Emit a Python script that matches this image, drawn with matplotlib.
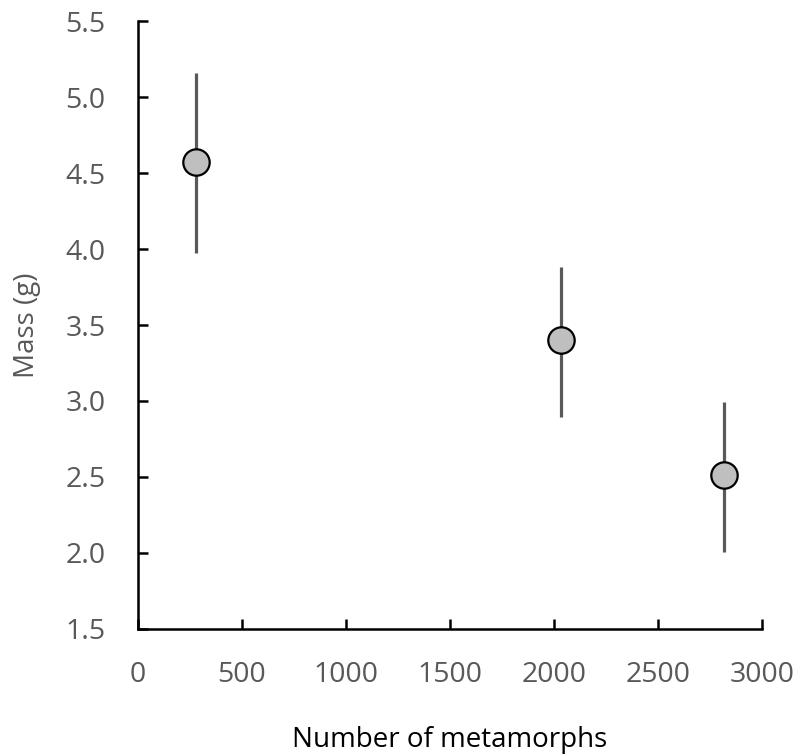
import matplotlib
matplotlib.use("Agg")
from matplotlib import pyplot as plt, rcParams

rcParams.update({
    'font.family': ['Open Sans', 'DejaVu Sans'],
    'font.size': 20,
})

metamorphs = [280, 2034, 2820]
mass = [4.574, 3.40, 2.513]
err_low = [3.972, 2.897, 2.009]
err_high = [5.16, 3.884, 2.991]

yerr = [[m - lo for m, lo in zip(mass, err_low)],
        [hi - m for m, hi in zip(mass, err_high)]]

fig = plt.figure(figsize=(7.96, 7.55), dpi=100)
ax = fig.add_axes([0.173, 0.167, 0.784, 0.805])

ax.errorbar(metamorphs, mass, yerr=yerr, fmt='none', ecolor='#595959',
            elinewidth=2.3, capsize=0, zorder=2)
ax.plot(metamorphs, mass, 'o', markersize=19, markerfacecolor='#BFBFBF',
        markeredgecolor='black', markeredgewidth=1.6, zorder=3)

ax.set_xlim(0, 3000)
ax.set_ylim(1.5, 5.5)
ax.set_xticks(range(0, 3001, 500))
ax.set_yticks([1.5, 2.0, 2.5, 3.0, 3.5, 4.0, 4.5, 5.0, 5.5])
ax.set_yticklabels(['%.1f' % v for v in ax.get_yticks()])

for s in ['top', 'right']:
    ax.spines[s].set_visible(False)
for s in ['left', 'bottom']:
    ax.spines[s].set_linewidth(1.8)
    ax.spines[s].set_color('black')

ax.tick_params(direction='in', length=7, width=1.8, colors='black',
               labelcolor='#595959', labelsize=20.5)
ax.tick_params(axis='x', pad=23)
ax.tick_params(axis='y', pad=23)

ax.set_xlabel('Number of metamorphs', color='black', fontsize=20, labelpad=27)
ax.set_ylabel('Mass (g)', color='#595959', fontsize=20, labelpad=18)

fig.savefig('out.png', dpi=100)
